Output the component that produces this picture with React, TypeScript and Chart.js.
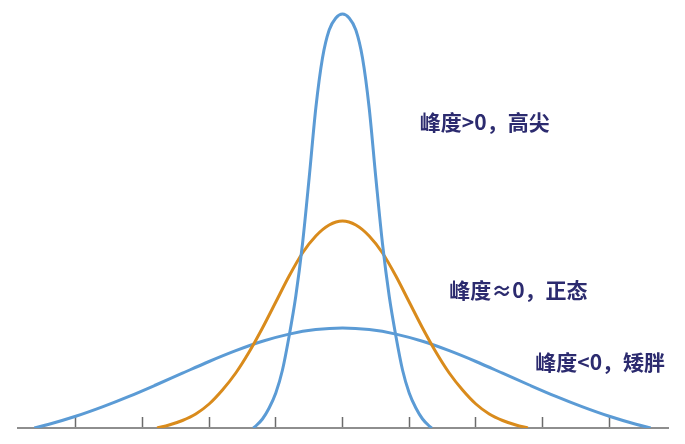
import React, { useEffect, useRef } from "react";
import { Chart, registerables } from "chart.js";

Chart.register(...registerables);

// x in axis units (one unit per tick), y in arbitrary height units
const peakedX = [-1.34, -1.3, -1.2, -1.1, -1.0, -0.9, -0.8, -0.7, -0.6, -0.5, -0.4, -0.3, -0.2, -0.1, 0, 0.1, 0.2, 0.3, 0.4, 0.5, 0.6, 0.7, 0.8, 0.9, 1.0, 1.1, 1.2, 1.3, 1.34];
const peakedY = [0, 2, 9, 20, 35, 58, 92, 132, 184, 250, 320, 370, 398, 410, 414, 410, 398, 370, 320, 250, 184, 132, 92, 58, 35, 20, 9, 2, 0];

const normalX = [-2.78, -2.6, -2.4, -2.2, -2.0, -1.8, -1.6, -1.4, -1.2, -1.0, -0.8, -0.6, -0.4, -0.2, 0, 0.2, 0.4, 0.6, 0.8, 1.0, 1.2, 1.4, 1.6, 1.8, 2.0, 2.2, 2.4, 2.6, 2.78];
const normalY = [0, 3, 7.5, 14, 24, 38, 55, 76, 100, 126, 152, 175, 192, 203, 207, 203, 192, 175, 152, 126, 100, 76, 55, 38, 24, 14, 7.5, 3, 0];

const flatX = [-4.62, -4.4, -4.0, -3.6, -3.2, -2.8, -2.4, -2.0, -1.6, -1.2, -0.8, -0.4, 0, 0.4, 0.8, 1.2, 1.6, 2.0, 2.4, 2.8, 3.2, 3.6, 4.0, 4.4, 4.62];
const flatY = [0, 3.7, 11.7, 21.1, 31.6, 43, 54.8, 66.5, 77.3, 86.7, 93.9, 98.4, 100, 98.4, 93.9, 86.7, 77.3, 66.5, 54.8, 43, 31.6, 21.1, 11.7, 3.7, 0];

const xTicks = [-4, -3, -2, -1, 0, 1, 2, 3, 4];

const labelTexts = ["峰度>0，高尖", "峰度≈0，正态", "峰度<0，矮胖"];
const labelAnchorX = [1.16, 1.6, 2.89];
const labelAnchorY = [306, 138, 66];

const BLUE = "#5b9bd5";
const ORANGE = "#d98b1c";

const toPoints = (xs: number[], ys: number[]) => xs.map((x, i) => ({ x, y: ys[i] }));

const labelPlugin = {
  id: "curveLabels",
  afterDatasetsDraw(chart: any) {
    const { ctx, scales } = chart;
    const xs = scales.x;
    const ys = scales.y;
    ctx.save();
    ctx.font = 'bold 21px "Noto Sans CJK SC", sans-serif';
    ctx.fillStyle = "#2c2b6f";
    ctx.textBaseline = "middle";
    ctx.textAlign = "left";
    labelTexts.forEach((t, i) => {
      ctx.fillText(t, xs.getPixelForValue(labelAnchorX[i]), ys.getPixelForValue(labelAnchorY[i]));
    });
    ctx.restore();
  },
};

export default function App() {
  const ref = useRef<HTMLCanvasElement>(null);

  useEffect(() => {
    document.body.style.margin = "0";
    const canvas = ref.current;
    if (!canvas) return;
    const lineDs = (label: string, xs: number[], ys: number[], color: string) => ({
      label,
      data: toPoints(xs, ys),
      borderColor: color,
      backgroundColor: color,
      borderWidth: 3,
      pointRadius: 0,
      fill: false,
      cubicInterpolationMode: "monotone" as const,
    });
    const chart = new Chart(canvas, {
      type: "line",
      data: {
        datasets: [
          lineDs("峰度>0", peakedX, peakedY, BLUE),
          lineDs("峰度≈0", normalX, normalY, ORANGE),
          lineDs("峰度<0", flatX, flatY, BLUE),
        ],
      },
      options: {
        responsive: false,
        animation: false,
        layout: { padding: { left: 18, right: 17, top: 0, bottom: 0 } },
        plugins: { legend: { display: false }, tooltip: { enabled: false } },
        scales: {
          x: {
            type: "linear",
            position: "bottom",
            min: -4.865,
            max: 4.88,
            ticks: { display: false, includeBounds: false },
            afterBuildTicks: (s: any) => {
              s.ticks = xTicks.map((v) => ({ value: v }));
            },
            afterFit: (s: any) => {
              s.height = 16;
            },
            grid: {
              drawOnChartArea: false,
              drawTicks: true,
              tickLength: -11,
              tickColor: "#6b6b6b",
              tickWidth: 1.5,
            },
            border: { display: true, color: "#8e8e8e", width: 2 },
          },
          y: {
            display: false,
            min: 0,
            max: 428,
          },
        },
      },
      plugins: [labelPlugin],
    } as any);
    return () => chart.destroy();
  }, []);

  return (
    <div style={{ width: 685, height: 444 }}>
      <canvas ref={ref} width={685} height={444} style={{ display: "block" }} />
    </div>
  );
}
